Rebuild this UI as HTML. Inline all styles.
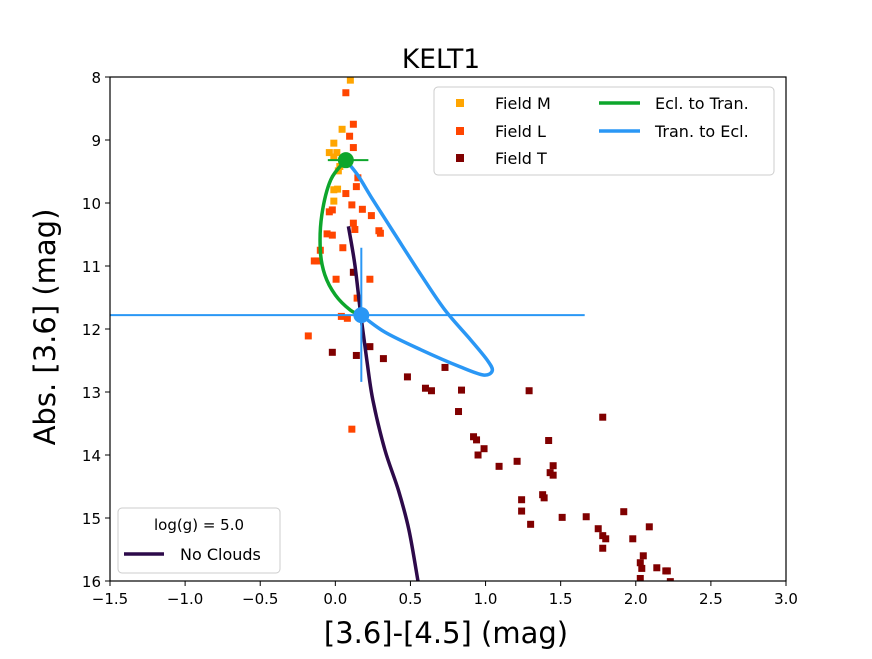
<!DOCTYPE html>
<html><head><meta charset="utf-8"><style>
body{margin:0;background:#fff;}
svg text{font-family:"DejaVu Sans","Liberation Sans",sans-serif;fill:#000;}
</style></head><body>
<svg id="chart" width="872" height="654" xmlns="http://www.w3.org/2000/svg">
<text x="441" y="68" font-size="26.5" text-anchor="middle">KELT1</text>
<g id="plot"></g>
<text x="446" y="643" font-size="29" text-anchor="middle">[3.6]-[4.5] (mag)</text>
<text transform="translate(55,327) rotate(-90)" font-size="29" text-anchor="middle">Abs. [3.6] (mag)</text>
</svg>
<script>
const xTicks=[-1.5,-1.0,-0.5,0.0,0.5,1.0,1.5,2.0,2.5,3.0];
const yTicks=[8,9,10,11,12,13,14,15,16];
const fieldMx=[0.10,0.045,-0.01,-0.04,0.01,-0.01,0.03,0.02,-0.01,0.015,-0.01];
const fieldMy=[8.05,8.83,9.05,9.2,9.2,9.27,9.42,9.49,9.79,9.78,9.97];
const fieldLx=[0.07,0.12,0.095,0.12,0.15,0.14,0.07,0.11,0.18,0.24,-0.04,-0.02,0.12,0.13,0.29,0.30,-0.055,-0.02,0.05,-0.10,-0.14,-0.12,0.005,0.23,0.145,0.04,0.08,-0.18,0.11];
const fieldLy=[8.25,8.75,8.94,9.12,9.6,9.74,9.85,10.03,10.1,10.2,10.14,10.11,10.32,10.42,10.44,10.48,10.49,10.51,10.71,10.75,10.92,10.92,11.21,11.21,11.51,11.8,11.83,12.11,13.59];
const fieldTx=[0.12,0.23,-0.02,0.14,0.32,0.48,0.60,0.64,0.73,0.84,1.29,0.82,1.78,0.92,0.94,0.99,0.95,1.42,1.09,1.21,1.45,1.43,1.45,1.24,1.24,1.30,1.38,1.39,1.51,1.67,1.92,1.75,1.78,1.80,1.78,1.98,2.09,2.05,2.03,2.04,2.14,2.20,2.21,2.03,2.23];
const fieldTy=[11.1,12.28,12.37,12.42,12.47,12.76,12.94,12.98,12.61,12.97,12.98,13.31,13.4,13.71,13.76,13.9,14.0,13.77,14.18,14.1,14.17,14.28,14.32,14.71,14.89,15.1,14.63,14.68,14.99,14.98,14.9,15.17,15.28,15.33,15.48,15.33,15.14,15.6,15.71,15.8,15.79,15.84,15.84,15.96,16.01];
const noCloudX=[0.087,0.13,0.17,0.21,0.25,0.33,0.42,0.49,0.55];
const noCloudY=[10.37,10.98,11.79,12.5,13.13,13.92,14.56,15.19,16.0];
const eclX=[0.07,-0.03,-0.09,-0.10,-0.07,0.0,0.10,0.173];
const eclY=[9.32,9.63,10.19,10.75,11.14,11.46,11.7,11.78];
const tranX=[0.173,0.33,0.57,0.83,0.985,1.045,1.01,0.90,0.73,0.57,0.40,0.25,0.15,0.07];
const tranY=[11.78,12.05,12.33,12.6,12.73,12.66,12.49,12.17,11.7,11.14,10.51,9.95,9.56,9.32];
const eclPoint=[0.07,9.32], eclErrX=[-0.05,0.22];
const tranPoint=[0.173,11.78], tranErrX=[-1.5,1.66], tranErrY=[10.71,12.84];

const L=110,R=786,T=77,B=581,X0=-1.5,X1=3.0,Y0=8,Y1=16;
const sx=v=>L+(v-X0)/(X1-X0)*(R-L);
const sy=v=>T+(v-Y0)/(Y1-Y0)*(B-T);
const NS='http://www.w3.org/2000/svg';
const g=document.getElementById('plot');
function mk(tag,attrs){const e=document.createElementNS(NS,tag);for(const k in attrs)e.setAttribute(k,attrs[k]);g.appendChild(e);return e;}
const defs=mk('clipPath',{id:'clip'});
const cr=document.createElementNS(NS,'rect');cr.setAttribute('x',L);cr.setAttribute('y',T);cr.setAttribute('width',R-L);cr.setAttribute('height',B-T);defs.appendChild(cr);
function scatter(xs,ys,col,name){xs.forEach((x,i)=>{const r=mk('rect',{x:sx(x)-3.5,y:sy(ys[i])-3.5,width:7,height:7,fill:col,'clip-path':'url(#clip)'});

});}
scatter(fieldMx,fieldMy,'#ffa500','field-m-point');
scatter(fieldLx,fieldLy,'#ff4500','field-l-point');
scatter(fieldTx,fieldTy,'#800000','field-t-point');
function smooth(xs,ys){const p=xs.map((x,i)=>[sx(x),sy(ys[i])]);let d='M'+p[0][0]+','+p[0][1];
for(let i=0;i<p.length-1;i++){const a=p[i-1]||p[i],b=p[i],c=p[i+1],e=p[i+2]||c;
d+=' C'+(b[0]+(c[0]-a[0])/6)+','+(b[1]+(c[1]-a[1])/6)+' '+(c[0]-(e[0]-b[0])/6)+','+(c[1]-(e[1]-b[1])/6)+' '+c[0]+','+c[1];}return d;}
function line(xs,ys,col,name){const p=mk('path',{d:smooth(xs,ys),fill:'none',stroke:col,'stroke-width':3.5,'stroke-linejoin':'round','clip-path':'url(#clip)'});

}
line(noCloudX,noCloudY,'#2d0a4a','no-clouds-line');
line(eclX,eclY,'#0da62c','ecl-to-tran-line');
line(tranX,tranY,'#2a97f5','tran-to-ecl-line');
let e=mk('line',{x1:sx(eclErrX[0]),x2:sx(eclErrX[1]),y1:sy(eclPoint[1]),y2:sy(eclPoint[1]),stroke:'#0da62c','stroke-width':2});

e=mk('circle',{cx:sx(eclPoint[0]),cy:sy(eclPoint[1]),r:8,fill:'#0da62c'});

e=mk('line',{x1:sx(tranErrX[0]),x2:sx(tranErrX[1]),y1:sy(tranPoint[1]),y2:sy(tranPoint[1]),stroke:'#2a97f5','stroke-width':2});

e=mk('line',{x1:sx(tranPoint[0]),x2:sx(tranPoint[0]),y1:sy(tranErrY[0]),y2:sy(tranErrY[1]),stroke:'#2a97f5','stroke-width':2});

e=mk('circle',{cx:sx(tranPoint[0]),cy:sy(tranPoint[1]),r:8,fill:'#2a97f5'});

e=mk('rect',{x:L,y:T,width:R-L,height:B-T,fill:'none',stroke:'#000','stroke-width':1.2});

xTicks.forEach(v=>{mk('line',{x1:sx(v),x2:sx(v),y1:B,y2:B+5,stroke:'#000'});
const t=mk('text',{x:sx(v),y:B+23,'font-size':15,'text-anchor':'middle'});t.textContent=(v<0?'\u2212':'')+Math.abs(v).toFixed(1);
});
yTicks.forEach(v=>{mk('line',{x1:L-5,x2:L,y1:sy(v),y2:sy(v),stroke:'#000'});
const t=mk('text',{x:L-9,y:sy(v)+6,'font-size':15,'text-anchor':'end'});t.textContent=v;
});
e=mk('rect',{x:434,y:87,width:340,height:88,rx:4,fill:'#fff',stroke:'#ccc'});

[['Field M','#ffa500',103],['Field L','#ff4500',131],['Field T','#800000',158]].forEach(a=>{
mk('rect',{x:456,y:a[2]-4,width:8,height:8,fill:a[1]});
const t=mk('text',{x:495,y:a[2]+6,'font-size':16});t.textContent=a[0];
});
[['Ecl. to Tran.','#0da62c',103],['Tran. to Ecl.','#2a97f5',131]].forEach(a=>{
mk('line',{x1:599,x2:640,y1:a[2],y2:a[2],stroke:a[1],'stroke-width':3.5});
const t=mk('text',{x:655,y:a[2]+6,'font-size':16});t.textContent=a[0];
});
e=mk('rect',{x:118,y:508,width:162,height:65,rx:4,fill:'#fff',stroke:'#ccc'});

let t=mk('text',{x:199,y:530,'font-size':15,'text-anchor':'middle'});t.textContent='log(g) = 5.0';

mk('line',{x1:124,x2:164,y1:554,y2:554,stroke:'#2d0a4a','stroke-width':3.5});
t=mk('text',{x:180,y:560,'font-size':16});t.textContent='No Clouds';

</script>
</body></html>
